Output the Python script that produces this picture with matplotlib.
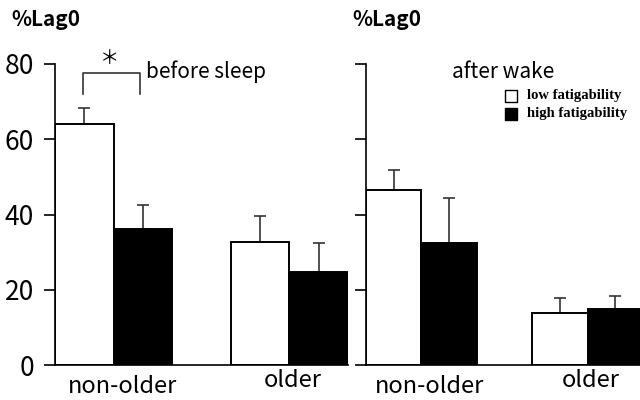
import matplotlib
matplotlib.use("Agg")
import matplotlib.pyplot as plt

groups = ["non-older", "older"]
series = ["low fatigability", "high fatigability"]
# before sleep
before_low = [64.0, 32.8]
before_low_err = [4.3, 6.8]
before_high = [36.1, 24.6]
before_high_err = [6.3, 7.7]
# after wake
after_low = [46.4, 13.9]
after_low_err = [5.5, 3.9]
after_high = [32.3, 14.8]
after_high_err = [12.0, 3.6]
yticks = [0, 20, 40, 60, 80]

plt.rcParams['font.family'] = ['Noto Sans CJK JP', 'DejaVu Sans']

fig = plt.figure(figsize=(6.4, 4.0), dpi=100)
ax1 = fig.add_axes([55/640, 35/400, 293/640, 301/400])
ax2 = fig.add_axes([366/640, 35/400, 277/640, 301/400])

def draw(ax, low, low_err, high, high_err, show_labels):
    xl = [0.5, 3.5]
    xh = [1.5, 4.5]
    ax.bar(xl, low, width=1.0, color='white', edgecolor='black', linewidth=1.4, zorder=2)
    ax.bar(xh, high, width=1.0, color='black', edgecolor='black', linewidth=1.4, zorder=2)
    ax.errorbar(xl, low, yerr=[[0]*len(low), low_err], fmt='none', ecolor='#333333',
                elinewidth=1.2, capsize=4, capthick=1.2, zorder=1)
    ax.errorbar(xh, high, yerr=[[0]*len(high), high_err], fmt='none', ecolor='#333333',
                elinewidth=1.2, capsize=4, capthick=1.2, zorder=1)
    ax.set_xlim(0, 5)
    ax.set_ylim(0, 80)
    ax.set_yticks(yticks)
    ax.set_xticks([])
    for s in ['top', 'right']:
        ax.spines[s].set_visible(False)
    ax.spines['left'].set_linewidth(1.2)
    ax.spines['bottom'].set_linewidth(1.2)
    ax.tick_params(axis='y', direction='out', length=8, width=1.2, labelsize=19, pad=7)
    if not show_labels:
        ax.set_yticklabels([])
    ax.text(1.15, -5.6, groups[0], ha='center', va='center', fontsize=17, clip_on=False)
    ax.text(4.05, -4.0, groups[1], ha='center', va='center', fontsize=17, clip_on=False)

draw(ax1, before_low, before_low_err, before_high, before_high_err, True)
draw(ax2, after_low, after_low_err, after_high, after_high_err, False)

fig.text(11/640, 1 - 19/400, "%Lag0", fontsize=15, fontweight='bold', va='center', ha='left')
fig.text(352/640, 1 - 19/400, "%Lag0", fontsize=15, fontweight='bold', va='center', ha='left')

# significance bracket
ax1.plot([0.47, 0.47, 1.45, 1.45], [72.0, 77.5, 77.5, 72.0], color='#333333', lw=1.2,
         clip_on=False)
ax1.text(0.94, 81.5, "＊", ha='center', va='center', fontsize=14, clip_on=False)
ax1.text(1.55, 78.0, "before sleep", ha='left', va='center', fontsize=15, clip_on=False)
ax2.text(1.55, 78.0, "after wake", ha='left', va='center', fontsize=15, clip_on=False)

# legend
ax2.scatter([2.62], [71.5], marker='s', s=75, facecolor='white', edgecolor='black',
            linewidth=1.0, clip_on=False)
ax2.scatter([2.62], [66.8], marker='s', s=75, facecolor='black', edgecolor='black',
            linewidth=1.0, clip_on=False)
ax2.text(2.9, 71.5, series[0], ha='left', va='center', fontsize=10.5, fontweight='bold',
         family='Liberation Serif')
ax2.text(2.9, 66.8, series[1], ha='left', va='center', fontsize=10.5, fontweight='bold',
         family='Liberation Serif')

fig.savefig("out.png", dpi=100)
